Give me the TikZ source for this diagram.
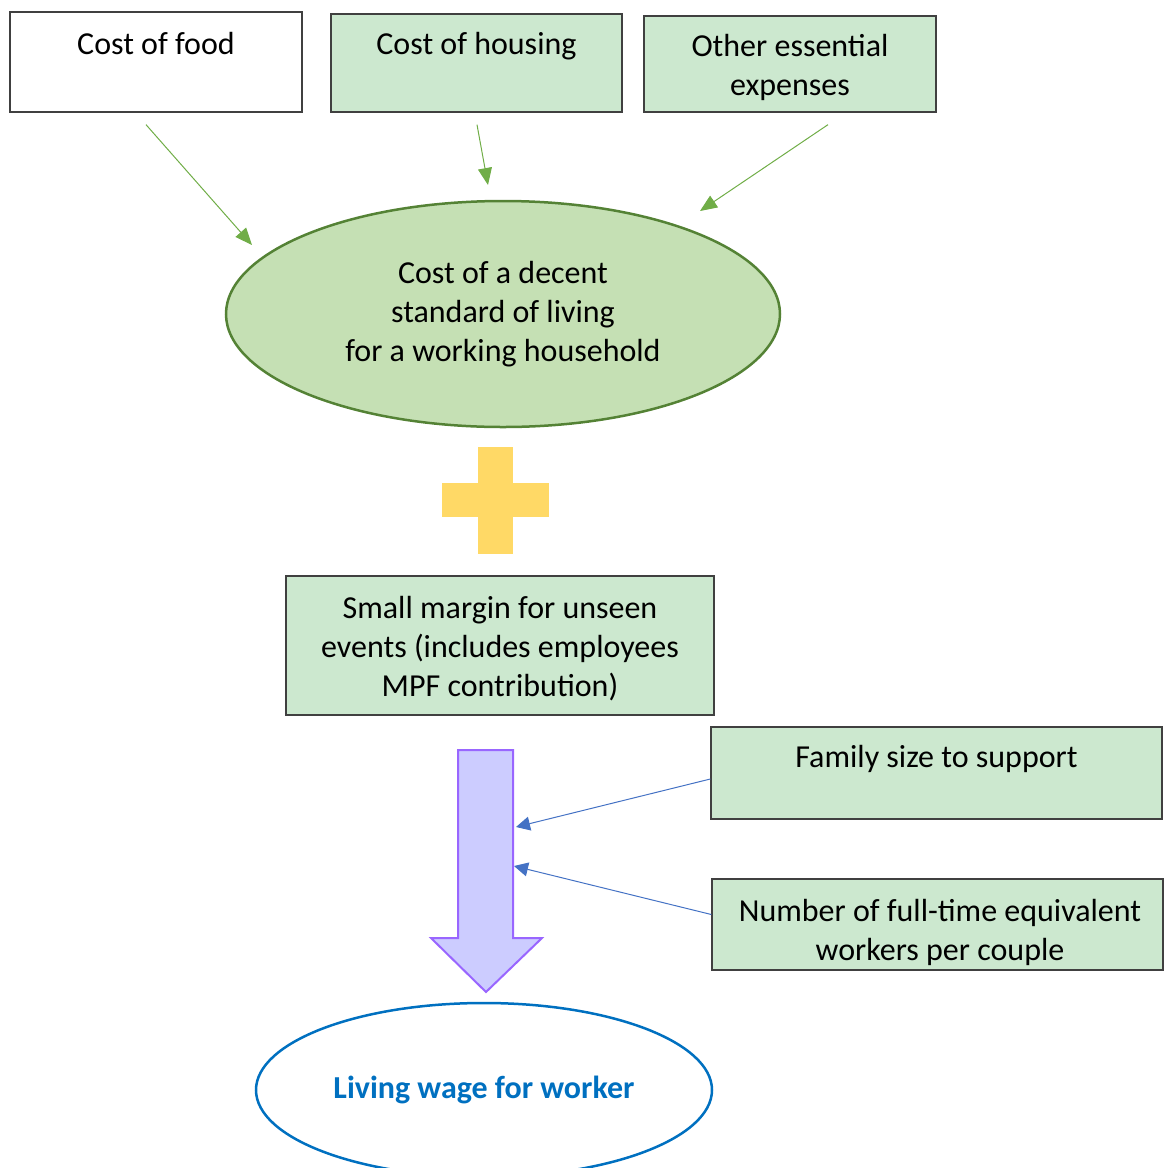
\documentclass[tikz,border=0pt]{standalone}
\usepackage{fontspec}
\setmainfont{Carlito}
\usetikzlibrary{arrows.meta,calc,shapes.geometric}
\definecolor{boxgreen}{HTML}{CCE8CF}
\definecolor{ellgreen}{HTML}{C5E0B4}
\definecolor{ellborder}{HTML}{548235}
\definecolor{arrgreen}{HTML}{70AD47}
\definecolor{plusyellow}{HTML}{FFD966}
\definecolor{lavfill}{HTML}{CCCCFF}
\definecolor{lavborder}{HTML}{9966FF}
\definecolor{arrblue}{HTML}{4472C4}
\definecolor{wageblue}{HTML}{0070C0}
\definecolor{boxborder}{HTML}{404040}
\begin{document}
\begin{tikzpicture}[x=1pt,y=-1pt,
  box/.style={draw=boxborder, line width=1.3pt, rectangle, inner sep=0pt},
  txt/.style={font=\fontsize{32}{39}\selectfont, align=center, inner sep=0pt, text=black},
  garrow/.style={draw=arrgreen, line width=1pt, -{Triangle[length=17pt,width=14pt]}},
  barrow/.style={draw=arrblue, line width=1pt, -{Triangle[length=14pt,width=14pt]}}]
\useasboundingbox (0,0) rectangle (1163,1168);

% top boxes
\node[box, fill=white, minimum width=292pt, minimum height=100pt] (food) at (156,62) {};
\node[txt] (foodt) at (156,44) {Cost of food};
\node[box, fill=boxgreen, minimum width=291pt, minimum height=98pt] (hous) at (476.5,63) {};
\node[txt] (houst) at (476.5,46) {Cost of housing};
\node[box, fill=boxgreen, minimum width=292pt, minimum height=96pt] (oth) at (790,64) {};
\node[txt] (otht) at (790,67) {Other essential\\expenses};

% main ellipse
\node[ellipse, draw=ellborder, fill=ellgreen, line width=2.5pt, minimum width=554pt, minimum height=226pt, inner sep=0pt, txt] (dec) at (503,314) {Cost of a decent\\standard of living\\for a working household};

\coordinate (e1) at (252,245);
\coordinate (e2) at (488,185);
\coordinate (e3) at (700,211);
\draw[garrow] ($(food.south)+(-10,12)$) -- (e1);
\draw[garrow] ($(hous.south)+(0.5,12)$) -- (e2);
\draw[garrow] ($(oth.south)+(38,12)$) -- (e3);

% plus sign
\fill[plusyellow] (478,447) rectangle (513,554);
\fill[plusyellow] (442,483) rectangle (549,517);

% margin box
\node[box, fill=boxgreen, minimum width=428pt, minimum height=139pt] (marg) at (500,645.5) {};
\node[txt] (margt) at (500,649) {Small margin for unseen\\events (includes employees\\MPF contribution)};

% block arrow
\draw[draw=lavborder, fill=lavfill, line width=2pt, line join=miter]
  (458,750) -- (513,750) -- (513,938) -- (542,938) -- (486,992) -- (431,938) -- (458,938) -- cycle;
\coordinate (b1) at (516,827);
\coordinate (b2) at (514,866);

% right boxes
\node[box, fill=boxgreen, minimum width=451pt, minimum height=92pt] (fam) at (936.5,773) {};
\node[txt] (famt) at (936.5,759) {Family size to support};
\node[box, fill=boxgreen, minimum width=451pt, minimum height=91pt] (num) at (937.5,924.5) {};
\node[txt] (numt) at (940,932) {Number of full-time equivalent\\workers per couple};

\draw[barrow] ($(fam.west)+(0,6)$) -- (b1);
\draw[barrow] ($(num.west)+(0,-10)$) -- (b2);

% bottom ellipse
\node[ellipse, draw=wageblue, line width=2.5pt, minimum width=456pt, minimum height=174pt, inner sep=0pt, font=\fontsize{32}{39}\selectfont\bfseries, text=wageblue] (wage) at (484,1090) {Living wage for worker};
\end{tikzpicture}
\end{document}
